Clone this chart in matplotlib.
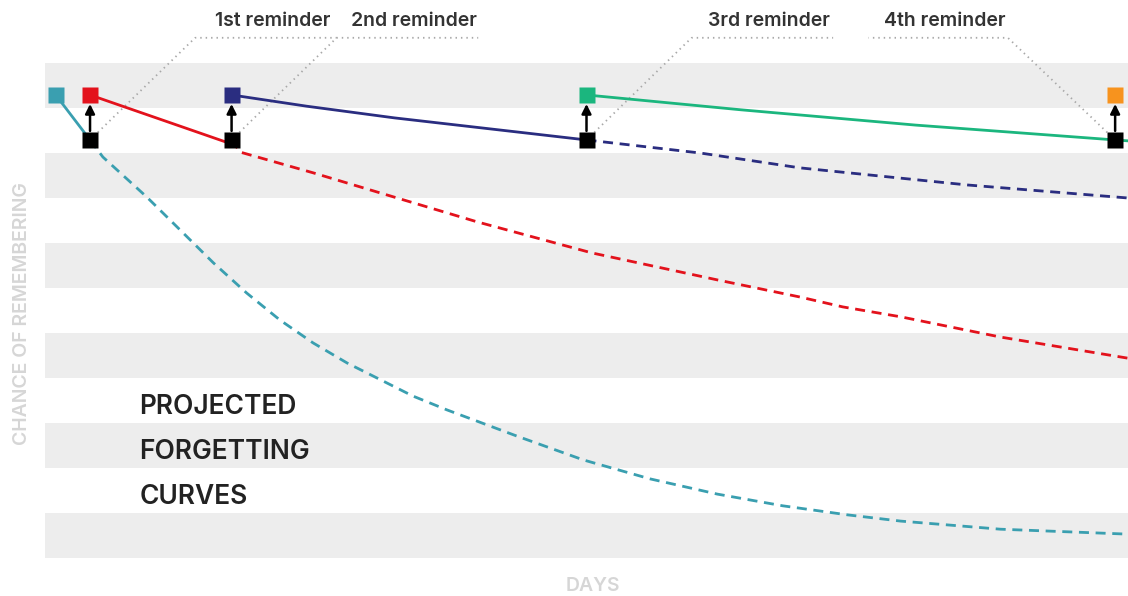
import numpy as np
import matplotlib
matplotlib.use("Agg")
import matplotlib.pyplot as plt

# reminder days (x) and marker levels (y, chance of remembering)
reminder_days = [3.2, 16.4, 49.5, 98.8]
reminder_labels = ["1st reminder", "2nd reminder", "3rd reminder", "4th reminder"]
level_top = 102.9
level_drop = 92.9

# teal: first learning
teal_solid_x = [0.0, 3.2]
teal_solid_y = [102.9, 92.9]
teal_dash_x = [3.2, 4.4, 8.5, 11.6, 14.7, 17.8, 20.9, 24.0, 27.2, 30.3, 33.3, 36.5,
               43.0, 49.2, 55.4, 61.7, 67.8, 73.8, 78.8, 88.1, 100.0]
teal_dash_y = [92.9, 89.1, 80.2, 72.9, 65.6, 58.9, 52.9, 47.8, 43.3, 39.6, 36.0, 32.9,
               27.1, 21.8, 17.6, 14.2, 11.6, 9.6, 8.2, 6.4, 5.3]

# red: after 1st reminder
red_solid_x = [3.2, 16.4]
red_solid_y = [102.9, 92.0]
red_dash_x = [16.4, 17.2, 24.0, 30.3, 39.3, 50.0, 61.7, 69.4, 73.4, 78.8, 88.1, 100.0]
red_dash_y = [92.9, 90.2, 85.6, 81.1, 74.7, 67.8, 61.8, 58.0, 55.8, 53.6, 49.1, 44.4]

# navy: after 2nd reminder
blue_solid_x = [16.4, 23.4, 31.6, 49.5]
blue_solid_y = [102.9, 100.4, 97.8, 92.9]
blue_dash_x = [49.5, 60.1, 69.4, 85.0, 100.0]
blue_dash_y = [92.9, 90.0, 86.7, 82.9, 80.0]

# green: after 3rd reminder
green_x = [49.5, 63.9, 80.2, 98.8, 100.0]
green_y = [102.9, 99.6, 96.2, 92.9, 92.7]

teal = "#3a9fb0"
red = "#e3121c"
navy = "#2a2d80"
green = "#1bb67e"
orange = "#f7931e"
marker_colors = [red, navy, green, orange]

fig = plt.figure(figsize=(11.28, 5.96), dpi=100)
ax = fig.add_axes([45 / 1128, 38 / 596, 1083 / 1128, 495 / 596])
ax.set_xlim(-1, 100)
ax.set_ylim(0, 110)

for b in range(0, 110, 20):
    ax.axhspan(b, b + 10, color="#ededed", lw=0, zorder=0)

dash = (0, (3.6, 2.4))
ax.plot(teal_solid_x, teal_solid_y, color=teal, lw=2, zorder=3, solid_capstyle="butt")
ax.plot(teal_dash_x, teal_dash_y, color=teal, lw=2, ls=dash, zorder=3)
ax.plot(red_solid_x, red_solid_y, color=red, lw=2, zorder=3)
ax.plot(red_dash_x, red_dash_y, color=red, lw=2, ls=dash, zorder=3)
ax.plot(blue_solid_x, blue_solid_y, color=navy, lw=2, zorder=3)
ax.plot(blue_dash_x, blue_dash_y, color=navy, lw=2, ls=dash, zorder=3)
ax.plot(green_x, green_y, color=green, lw=2, zorder=3, clip_on=False)

# markers
ms = 12
ax.plot([0.0], [level_top], "s", ms=ms, color=teal, mec="none", zorder=5)
for d, c in zip(reminder_days, marker_colors):
    ax.plot([d], [level_top], "s", ms=ms, color=c, mec="none", zorder=5)
    ax.plot([d], [level_drop], "s", ms=ms, color="black", mec="none", zorder=5)
    ax.annotate("", xy=(d, level_top), xytext=(d, level_drop),
                arrowprops=dict(arrowstyle="-|>", color="black", lw=1.8,
                                shrinkA=6.5, shrinkB=6.5, mutation_scale=14),
                zorder=6)

# leader lines and reminder labels
font = "Inter"
y_lead = 115.6
for i, (d, lab) in enumerate(zip(reminder_days, reminder_labels)):
    if i < 3:
        xs = [d, d + 9.8, d + 23.0]
    else:
        xs = [d, d - 10.0, d - 23.0]
    ax.plot(xs, [level_drop, y_lead, y_lead], color="#a8a8a8", lw=1.3,
            ls=(0, (0.8, 2.2)), zorder=2, clip_on=False)
    xc = (xs[1] + xs[2]) / 2 + 0.6
    ax.text(xc, 119.4, lab, ha="center", va="center", fontsize=14,
            fontfamily=font, fontweight="semibold", color="#333333")

for j, word in enumerate(["PROJECTED", "FORGETTING", "CURVES"]):
    ax.text(7.8, 33.6 - 10 * j, word, ha="left", va="center", fontsize=19,
            fontfamily=font, fontweight="semibold", color="#222222")

fig.text(22 / 1128, 1 - 314 / 596, "CHANCE OF REMEMBERING", rotation=90,
         ha="center", va="center", fontsize=14, fontfamily=font,
         fontweight="semibold", color="#d6d6d6")
fig.text(593 / 1128, 1 - 586 / 596, "DAYS", ha="center", va="center",
         fontsize=14, fontfamily=font, fontweight="semibold", color="#d6d6d6")

for s in ax.spines.values():
    s.set_visible(False)
ax.set_xticks([])
ax.set_yticks([])

fig.savefig("out.png", dpi=100)
